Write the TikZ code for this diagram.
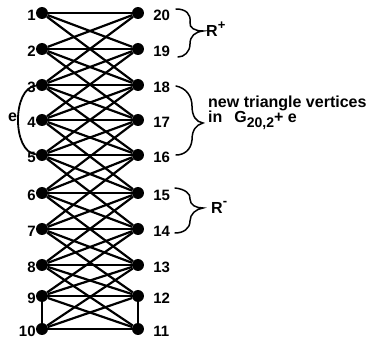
\documentclass[tikz,border=0pt]{standalone}
\usepackage{fontspec}
\setmainfont{Liberation Sans}
\begin{document}
\begin{tikzpicture}[x=1pt,y=-1pt,
  vtx/.style={circle,fill=black,inner sep=0pt,minimum size=12pt},
  edge/.style={line width=2.2pt},
  lbl/.style={font=\fontsize{15}{17}\selectfont\bfseries,inner sep=0pt},
  brc/.style={line width=1.5pt,line cap=round},
  txt/.style={font=\fontsize{16}{18}\selectfont\bfseries,inner sep=0pt,anchor=base west}]
\useasboundingbox (0,0) rectangle (368,340);
\foreach \r/\y in {0/13,1/49,2/85,3/120,4/155,5/193,6/229,7/265,8/296,9/329} {
  \node[vtx] (L\r) at (42,\y) {};
  \node[vtx] (R\r) at (138,\y) {};
}
% left-right edges
\foreach \r in {0,...,9} {
  \foreach \s in {0,...,9} {
    \pgfmathtruncatemacro\dd{abs(\r-\s)}
    \ifnum\dd<3 \draw[edge] (L\r) -- (R\s); \fi
  }
}
\draw[edge] (L8) -- (L9);
\draw[edge] (R8) -- (R9);
% edge e
\draw[line width=1.8pt] (L2) .. controls (12,88) and (12,152) .. (L4);
\node[txt,anchor=center] (elab) at (12.5,117) {e};
% vertex labels
\foreach \r in {0,...,9} {
  \pgfmathtruncatemacro\nl{\r+1}
  \pgfmathtruncatemacro\nr{20-\r}
  \node[lbl,anchor=east] (ll\r) at ([xshift=0pt,yshift=-2pt]L\r.west) {\nl};
  \node[lbl,anchor=west] (rl\r) at ([xshift=9pt,yshift=-2pt]R\r.east) {\nr};
}
% braces
\draw[brc] (176,9) .. controls (186,9) and (191,14) .. (190,22)
  .. controls (189,28) and (195,31) .. (203,31)
  .. controls (195,32) and (190,36) .. (190,44)
  .. controls (190,52) and (184,57) .. (178,57);
\draw[brc] (176,86) .. controls (186,88) and (192,96) .. (192,106)
  .. controls (192,116) and (196,122) .. (203,123)
  .. controls (196,125) and (192,130) .. (192,140)
  .. controls (191,150) and (184,155) .. (176,155);
\draw[brc] (175,188) .. controls (185,189) and (191,194) .. (190,199)
  .. controls (190,205) and (196,208) .. (203,208)
  .. controls (196,209) and (190,214) .. (190,221)
  .. controls (190,229) and (183,233) .. (175,233);
% texts
\node[txt] (rplus) at (206,37) {R\raisebox{7pt}{\fontsize{13}{13}\selectfont +}};
\node[txt] (rminus) at (211,214) {R\raisebox{8pt}{\fontsize{13}{13}\selectfont -}};
\node[txt] (newtri) at (208,107) {new triangle vertices};
\node[txt] (inG) at (208,123) {in\hspace{12pt}G\raisebox{-5pt}{\fontsize{14}{14}\selectfont 20,2}+ e};
\end{tikzpicture}
\end{document}
